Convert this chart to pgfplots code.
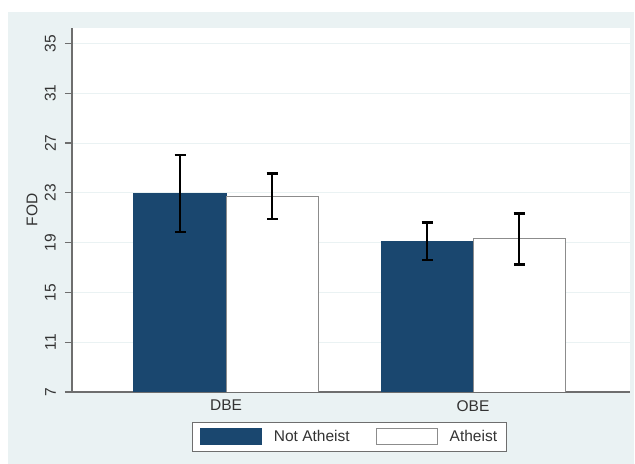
\documentclass[border=0pt]{standalone}
\usepackage{pgfplots}
\pgfplotsset{compat=1.18}
\usepackage{fontspec}
\setmainfont{Liberation Sans}
\definecolor{statabg}{HTML}{EAF2F3}
\definecolor{statanavy}{HTML}{1A476F}
\definecolor{axgray}{HTML}{6E6E6E}
\begin{document}
\begin{tikzpicture}
\fill[white] (0,0) rectangle (635bp,464bp);
\useasboundingbox (0,0) rectangle (635bp,464bp);
\fill[statabg] (8bp,0bp) rectangle (634bp,452bp);
\begin{axis}[
  at={(72bp,72bp)}, anchor=south west,
  scale only axis, width=558bp, height=364bp,
  font=\fontsize{15.5bp}{18bp}\selectfont,
  /pgf/number format/assume math mode=true,
  axis background/.style={fill=white},
  xmin=0.3765, xmax=2.6356,
  ymin=7, ymax=36.24,
  ytick={7,11,15,19,23,27,31,35},
  xtick={1,2}, xticklabels={DBE,OBE},
  axis x line*=bottom, axis y line*=left,
  axis line style={axgray, line width=1.2bp, -},
  xtick align=outside, ytick align=outside,
  major tick length=7bp,
  xtick style={draw=none},
  ytick style={draw=axgray, line width=1.2bp},
  ymajorgrids, grid style={statabg, line width=1bp},
  yticklabel style={rotate=90, anchor=south, inner sep=0pt, yshift=9bp, text=black!80},
  xticklabel style={anchor=north, inner sep=0pt, yshift=-1bp, text=black!80},
  ylabel={FOD},
  every axis y label/.style={at={(axis description cs:-0.0717,0.5)}, rotate=90, anchor=center, text=black!80},
  ybar, bar width=0.3725, bar shift=0pt,
  legend columns=2,
  legend style={at={(0.4973,-0.0824)}, anchor=north, draw=axgray, line width=1bp, fill=white,
    inner xsep=7bp, inner ysep=6bp,
    /tikz/every odd column/.append style={column sep=10bp},
    /tikz/every even column/.append style={column sep=24bp},
    font=\fontsize{15.5bp}{18bp}\selectfont, text=black!80},
  legend image code/.code={\draw[#1, line width=1bp] (0bp,-8bp) rectangle (61bp,8bp);},
  error bars/y dir=both, error bars/y explicit,
  error bars/error mark=-,
  error bars/error bar style={black, line width=2.5bp},
  error bars/error mark options={rotate=90, black, line width=2.5bp, mark size=5.5bp},
]
\addplot[fill=statanavy, draw=statanavy, line width=1bp]
  coordinates {
    (0.81375,22.95) += (0,3.07) -= (0,3.08)
    (1.81375,19.06) += (0,1.56) -= (0,1.47)
  };
\addlegendentry{Not Atheist}
\addplot[fill=white, draw=gray!90, line width=1bp]
  coordinates {
    (1.18625,22.73) += (0,1.82) -= (0,1.85)
    (2.18625,19.33) += (0,2.01) -= (0,2.08)
  };
\addlegendentry{Atheist}
\end{axis}
\end{tikzpicture}
\end{document}
